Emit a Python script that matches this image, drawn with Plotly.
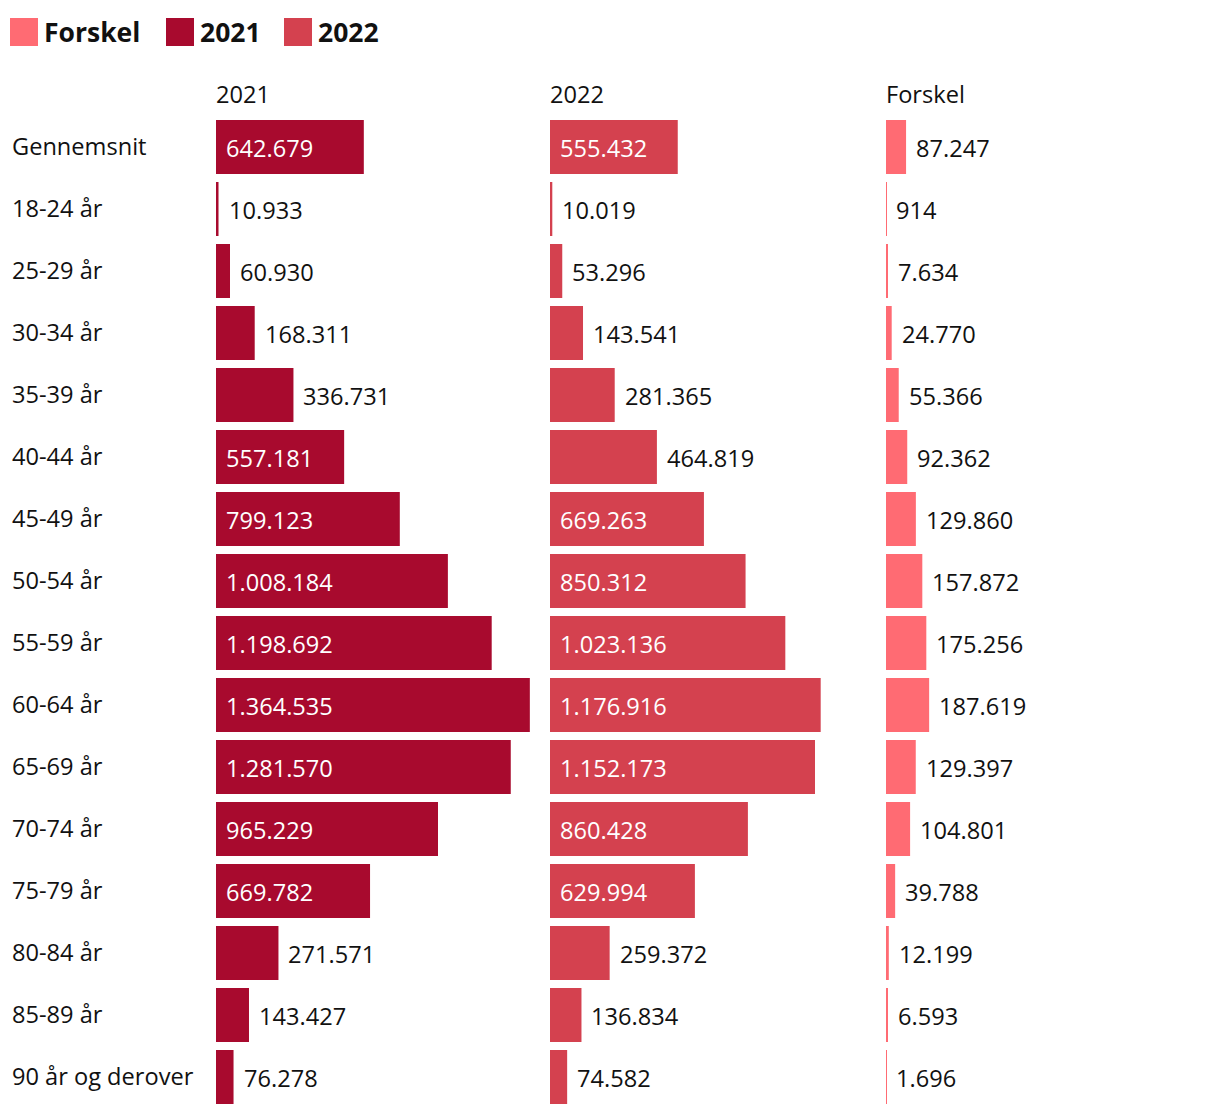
import plotly.graph_objects as go

categories = ["Gennemsnit", "18-24 år", "25-29 år", "30-34 år", "35-39 år", "40-44 år",
              "45-49 år", "50-54 år", "55-59 år", "60-64 år", "65-69 år", "70-74 år",
              "75-79 år", "80-84 år", "85-89 år", "90 år og derover"]
v2021 = [642679, 10933, 60930, 168311, 336731, 557181, 799123, 1008184, 1198692,
         1364535, 1281570, 965229, 669782, 271571, 143427, 76278]
v2022 = [555432, 10019, 53296, 143541, 281365, 464819, 669263, 850312, 1023136,
         1176916, 1152173, 860428, 629994, 259372, 136834, 74582]
forskel = [87247, 914, 7634, 24770, 55366, 92362, 129860, 157872, 175256,
           187619, 129397, 104801, 39788, 12199, 6593, 1696]

C2021 = "#A80A2E"
C2022 = "#D4414F"
CFOR = "#FF6B73"
FONT = "Open Sans"
FS = 23.6
W, H = 1220, 1114
K = 0.00023  # px per unit
TOP, BOTTOM = 116, 6
PH = H - TOP - BOTTOM

def py(p):
    """pixel from top of page -> paper y"""
    return (H - BOTTOM - p) / PH

cols = [
    ("2021", v2021, C2021, "x", 216, 536),
    ("2022", v2022, C2022, "x2", 550, 870),
    ("Forskel", forskel, CFOR, "x3", 886, 1220),
]

def fmt(v):
    return f"{v:,}".replace(",", ".")

fig = go.Figure()
annotations = []
shapes = []
for name, vals, color, ax, x0, x1 in cols:
    fig.add_trace(go.Bar(y=categories, x=vals, orientation="h", marker_color=color,
                         marker_line_width=0, name=name, xaxis=ax, yaxis="y",
                         showlegend=False, hoverinfo="x+y"))
    for c, v in zip(categories, vals):
        inside = v > 500000
        annotations.append(dict(
            x=0 if inside else v, y=c, xref=ax, yref="y", text=fmt(v),
            xanchor="left", yanchor="middle", xshift=8, yshift=-0.5,
            showarrow=False,
            font=dict(family=FONT, size=FS, color="white" if inside else "#111111")))
    annotations.append(dict(x=x0 / W, y=py(94), xref="paper", yref="paper", text=name,
                            xanchor="left", yanchor="middle", showarrow=False,
                            xshift=-2,
                            font=dict(family=FONT, size=FS, color="#111111")))

for c in categories:
    annotations.append(dict(x=12 / W, y=c, xref="paper", yref="y", text=c,
                            xanchor="left", yanchor="middle", showarrow=False, yshift=1.5,
                            xshift=-2,
                            font=dict(family=FONT, size=FS, color="#111111")))

# legend drawn manually
legend_items = [("Forskel", CFOR, 10), ("2021", C2021, 166), ("2022", C2022, 284)]
for lab, col, lx in legend_items:
    shapes.append(dict(type="rect", xref="paper", yref="paper",
                       x0=lx / W, x1=(lx + 28) / W, y0=py(18), y1=py(46),
                       fillcolor=col, line_width=0))
    annotations.append(dict(x=(lx + 32) / W, y=py(32), xref="paper", yref="paper",
                            text=f"<b>{lab}</b>", xanchor="left", yanchor="middle",
                            showarrow=False,
                            font=dict(family=FONT, size=26.5, color="#111111")))

layout = dict(
    width=W, height=H,
    margin=dict(l=0, r=0, t=TOP, b=BOTTOM, pad=0),
    paper_bgcolor="white", plot_bgcolor="white",
    bargap=8 / 62,
    yaxis=dict(categoryorder="array", categoryarray=categories, autorange="reversed",
               showticklabels=False, showgrid=False, zeroline=False, ticks=""),
    annotations=annotations, shapes=shapes,
)
for i, (name, vals, color, ax, x0, x1) in enumerate(cols):
    key = "xaxis" if i == 0 else f"xaxis{i + 1}"
    layout[key] = dict(domain=[x0 / W, x1 / W], range=[0, (x1 - x0) / K],
                       showticklabels=False, showgrid=False, zeroline=False,
                       ticks="", fixedrange=True, anchor="y")
fig.update_layout(**layout)

fig.write_html("out.html", config={"displayModeBar": False},
               post_script="document.body.style.margin='0';")
